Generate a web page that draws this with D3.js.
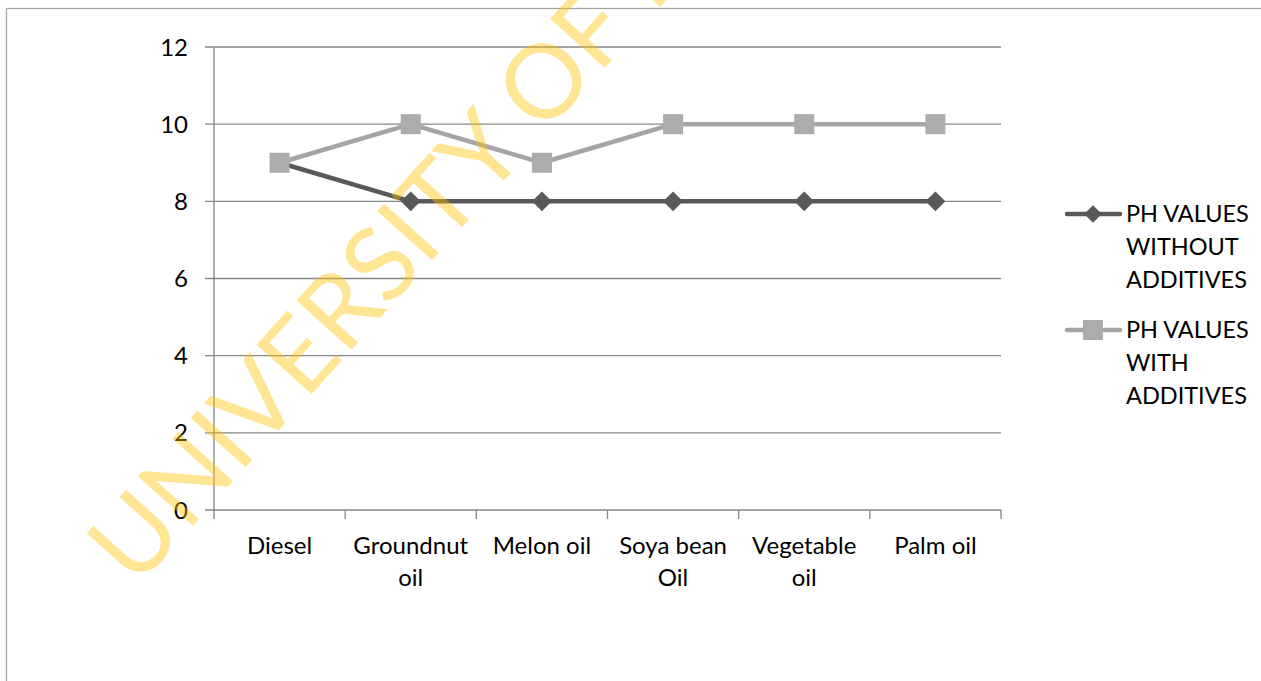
<!DOCTYPE html>
<html><head><meta charset="utf-8">
<script src="https://cdn.jsdelivr.net/npm/d3@7"></script>
<style>html,body{margin:0;padding:0;background:#fff;overflow:hidden}</style>
</head><body>
<svg id="c" width="1261" height="681"></svg>
<script>
const categories = [["Diesel"],["Groundnut","oil"],["Melon oil"],["Soya bean","Oil"],["Vegetable","oil"],["Palm oil"]];
const categoryKeys = ["Diesel","Groundnut oil","Melon oil","Soya bean Oil","Vegetable oil","Palm oil"];
const withoutAdditives = [9, 8, 8, 8, 8, 8];
const withAdditives = [9, 10, 9, 10, 10, 10];
const yTicks = [0, 2, 4, 6, 8, 10, 12];
const seriesNames = [["PH VALUES","WITHOUT","ADDITIVES"],["PH VALUES","WITH","ADDITIVES"]];
const watermark = "UNIVERSITY OF IBADAN LIBRARY";

const svg = d3.select("#c");
const font = "Lato, 'Open Sans', sans-serif";
const fs = 24;

svg.append("rect").attr("x",6.5).attr("y",8.5).attr("width",1400).attr("height",800)
  .attr("fill","#fff").attr("stroke","#a6a6a6").attr("stroke-width",1.3);

const pLeft = 214, pRight = 1001, pTop = 47, pBottom = 510;
const x = d3.scaleBand().domain(categoryKeys).range([pLeft, pRight]).padding(0);
const y = d3.scaleLinear().domain([0, 12]).range([pBottom, pTop]);

const g = svg.append("g");
g.selectAll("line.grid").data(yTicks).join("line")
  .attr("x1", pLeft - 9).attr("x2", pRight).attr("y1", d => y(d)).attr("y2", d => y(d))
  .attr("stroke", "#868686").attr("stroke-width", 1.3);
g.append("line").attr("x1", pLeft).attr("x2", pLeft).attr("y1", pTop).attr("y2", pBottom + 9)
  .attr("stroke", "#868686").attr("stroke-width", 1.3);
const bounds = categoryKeys.map(c => x(c)).concat([pRight]);
g.selectAll("line.xt").data(bounds.slice(1)).join("line")
  .attr("x1", d => d).attr("x2", d => d).attr("y1", pBottom).attr("y2", pBottom + 9)
  .attr("stroke", "#868686").attr("stroke-width", 1.3);

g.selectAll("text.yl").data(yTicks).join("text")
  .attr("x", pLeft - 26).attr("y", d => y(d)).attr("dy", "0.36em")
  .attr("text-anchor", "end").attr("font-family", font).attr("font-size", fs).attr("fill", "#000")
  .text(d => d);

categories.forEach((lines, i) => {
  const cx = x(categoryKeys[i]) + x.bandwidth() / 2;
  const t = g.append("text").attr("text-anchor", "middle").attr("font-family", font)
    .attr("font-size", fs).attr("fill", "#000");
  lines.forEach((l, j) => {
    t.append("tspan").attr("x", cx).attr("y", 545 + j * 32).attr("dy", "0.36em").text(l);
  });
});

const cxOf = (d, i) => x(categoryKeys[i]) + x.bandwidth() / 2;
const line = d3.line().x(cxOf).y(d => y(d));

svg.append("path").datum(withoutAdditives).attr("d", line).attr("fill", "none")
  .attr("stroke", "#595959").attr("stroke-width", 4.5).attr("stroke-linejoin", "round");
svg.selectAll("path.dia").data(withoutAdditives).join("path")
  .attr("d", d3.symbol(d3.symbolDiamond2, 250)())
  .attr("transform", (d, i) => `translate(${cxOf(d, i)},${y(d)})`)
  .attr("fill", "#595959");

svg.append("path").datum(withAdditives).attr("d", line).attr("fill", "none")
  .attr("stroke", "#a5a5a5").attr("stroke-width", 4.5).attr("stroke-linejoin", "round");
svg.selectAll("rect.sq").data(withAdditives).join("rect")
  .attr("x", (d, i) => cxOf(d, i) - 10).attr("y", d => y(d) - 10)
  .attr("width", 20).attr("height", 20).attr("fill", "#acacac");

const legColors = ["#595959", "#a5a5a5"];
const legY = [214, 330];
seriesNames.forEach((lines, i) => {
  const ly = legY[i];
  svg.append("line").attr("x1", 1067).attr("x2", 1120).attr("y1", ly).attr("y2", ly)
    .attr("stroke", legColors[i]).attr("stroke-width", 4.5).attr("stroke-linecap", "round");
  if (i === 0) {
    svg.append("path").attr("d", d3.symbol(d3.symbolDiamond2, 200)())
      .attr("transform", `translate(1093,${ly})`).attr("fill", legColors[i]);
  } else {
    svg.append("rect").attr("x", 1093 - 10).attr("y", ly - 10).attr("width", 20).attr("height", 20)
      .attr("fill", "#acacac");
  }
  const t = svg.append("text").attr("font-family", font).attr("font-size", 23.5).attr("fill", "#000");
  lines.forEach((l, j) => {
    t.append("tspan").attr("x", 1126).attr("y", ly + j * 33).attr("dy", "0.36em").text(l);
  });
});

svg.append("text").attr("transform", "translate(136,589) rotate(-48)")
  .attr("font-family", "Lato, sans-serif").attr("font-weight", 400).attr("font-size", 103)
  .attr("fill", "#ffc000").attr("fill-opacity", 0.42).text(watermark);
</script>
</body></html>
